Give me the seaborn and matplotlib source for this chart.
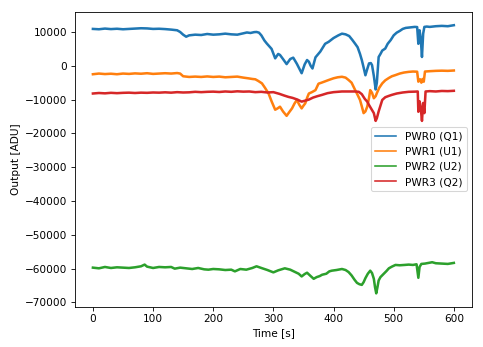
import numpy as np
import pandas as pd
import matplotlib
matplotlib.use("Agg")
import matplotlib.pyplot as plt
import seaborn as sns

labels = ["PWR0 (Q1)", "PWR1 (U1)", "PWR2 (U2)", "PWR3 (Q2)"]

t0 = [0,10,20,30,40,50,60,70,80,90,100,110,120,130,140,145,150,155,160,170,180,190,200,210,220,230,240,250,256,262,268,272,276,280,285,289,293,297,303,308,311,316,322,328,333,339,343,347,352,356,359,362,365,370,378,386,392,400,408,414,420,426,431,436,440,444,447,450,453,456,459,462,464,467,470,472,475,478,481,486,490,495,500,505,510,515,520,525,530,535,539,541,543,545,547,549,551,555,560,570,580,590,600]
v0 = [10900,10800,11000,10850,10950,10800,10900,11000,11100,11050,10900,10950,10850,10700,10500,10000,9200,8600,9000,9200,9100,9400,9200,9300,9500,9300,9200,9600,9850,9700,9950,10000,9800,9000,7500,6600,5800,5000,2200,3500,3200,2000,500,2000,2400,600,-800,-2200,400,1700,1200,0,-800,2500,4200,6500,7100,8200,9000,9500,9300,8800,7700,6500,5500,3500,1700,-500,-2800,-1000,700,800,200,-3000,-7000,-5000,2600,3500,4500,5100,6500,7600,9000,9800,10300,10900,11200,11300,11400,11500,11450,6500,10500,8000,2600,9500,11500,11600,11500,11700,11800,11700,12000]

t1 = [0,10,20,30,40,50,60,70,80,90,100,110,120,130,140,145,150,160,170,180,190,200,210,220,230,240,250,258,265,270,275,281,286,292,297,303,307,311,316,322,326,331,335,339,343,347,350,353,356,359,364,370,375,380,386,392,400,407,414,420,425,430,436,440,444,447,450,453,456,459,461,464,467,470,472,476,481,486,492,497,503,510,517,525,532,539,541,544,546,548,550,552,560,570,580,590,600]
v1 = [-2500,-2300,-2450,-2350,-2500,-2300,-2400,-2250,-2350,-2200,-2400,-2300,-2200,-2300,-2150,-2300,-3100,-3300,-3200,-3300,-3150,-3300,-3200,-3400,-3300,-3200,-3500,-3700,-3900,-4000,-4500,-5200,-6500,-8200,-10500,-13000,-12600,-12100,-13500,-14800,-13800,-12600,-11200,-10100,-11500,-12600,-11800,-11100,-9500,-8200,-7800,-7200,-5300,-5000,-4600,-4200,-3700,-3400,-3250,-3500,-4200,-5000,-7200,-8600,-10100,-12000,-14000,-13500,-12100,-9500,-7200,-8000,-9600,-9000,-8100,-6500,-5200,-4300,-3600,-3100,-2750,-2300,-2000,-1800,-1700,-1750,-4700,-4000,-5000,-3900,-4700,-1700,-1600,-1500,-1450,-1500,-1400]

t2 = [0,10,20,30,40,50,60,70,80,86,90,100,110,120,130,136,145,155,165,175,185,192,200,210,220,230,236,245,255,265,272,280,290,300,308,319,328,335,342,347,352,356,362,367,372,377,381,388,393,397,405,414,420,425,430,435,439,443,447,450,453,457,461,464,467,469,471,473,475,478,483,488,492,497,503,510,518,525,532,538,541,543,546,552,558,564,570,580,590,600]
v2 = [-59700,-59900,-59500,-59800,-59600,-59700,-59800,-59600,-59300,-58800,-59400,-59800,-59500,-59600,-59500,-60000,-59700,-59900,-60100,-59800,-60200,-60300,-60100,-60200,-60400,-60300,-60800,-60100,-60300,-59800,-59300,-59800,-60400,-61100,-60500,-59900,-60300,-60900,-61500,-62300,-61600,-61200,-62200,-63000,-62500,-62200,-61800,-61500,-60800,-60600,-60400,-60100,-60400,-61000,-62000,-63300,-64200,-64600,-64800,-64000,-62800,-61500,-60600,-61300,-63000,-65500,-67300,-65500,-63500,-62500,-61600,-60700,-59900,-59400,-58900,-59000,-58900,-58800,-58900,-58700,-62700,-59500,-58600,-58500,-58300,-58100,-58400,-58500,-58600,-58300]

t3 = [0,10,20,30,40,50,60,70,80,90,100,110,120,130,140,150,160,170,180,190,200,210,220,230,240,250,260,270,280,290,300,310,318,325,332,340,347,353,359,366,373,381,390,400,414,425,436,442,447,452,456,459,463,467,470,472,475,478,481,486,492,497,505,515,525,535,540,541,543,545,547,549,551,553,560,570,580,590,600]
v3 = [-8200,-8050,-8150,-8000,-8100,-8000,-7950,-8050,-7950,-8000,-7900,-7950,-7850,-7950,-7800,-7900,-7850,-7700,-7800,-7700,-7650,-7750,-7600,-7700,-7550,-7650,-7600,-7800,-7700,-7900,-7800,-8300,-8800,-9200,-9500,-10000,-10600,-10300,-10000,-9400,-9000,-8600,-8100,-7800,-7600,-7600,-7600,-7700,-8400,-9800,-10600,-11600,-12800,-14000,-16300,-15500,-13500,-11800,-10100,-9300,-8900,-8600,-8200,-7900,-7700,-7650,-7600,-13600,-10500,-12500,-16300,-11000,-14000,-7600,-7500,-7600,-7450,-7500,-7400]

frames = []
for lab, t, v in zip(labels, [t0, t1, t2, t3], [v0, v1, v2, v3]):
    frames.append(pd.DataFrame({"Time": t, "Output": v, "Channel": lab}))
df = pd.concat(frames, ignore_index=True)

DPI = 76
fig = plt.figure(figsize=(483 / DPI, 347 / DPI), dpi=DPI)
ax = fig.add_axes([0.155, 0.116, 0.822, 0.850])
sns.lineplot(data=df, x="Time", y="Output", hue="Channel", hue_order=labels,
             palette=sns.color_palette("tab10", 4), linewidth=2.4, ax=ax,
             estimator=None, sort=False)
ax.set_xlabel("Time [s]")
ax.set_ylabel("Output [ADU]")
ax.set_xticks([0, 100, 200, 300, 400, 500, 600])
ax.set_yticks(list(range(-70000, 10001, 10000)))
leg = ax.legend(loc="center right")
for line in leg.get_lines():
    line.set_linewidth(1.5)
fig.savefig("out.png", dpi=DPI)
